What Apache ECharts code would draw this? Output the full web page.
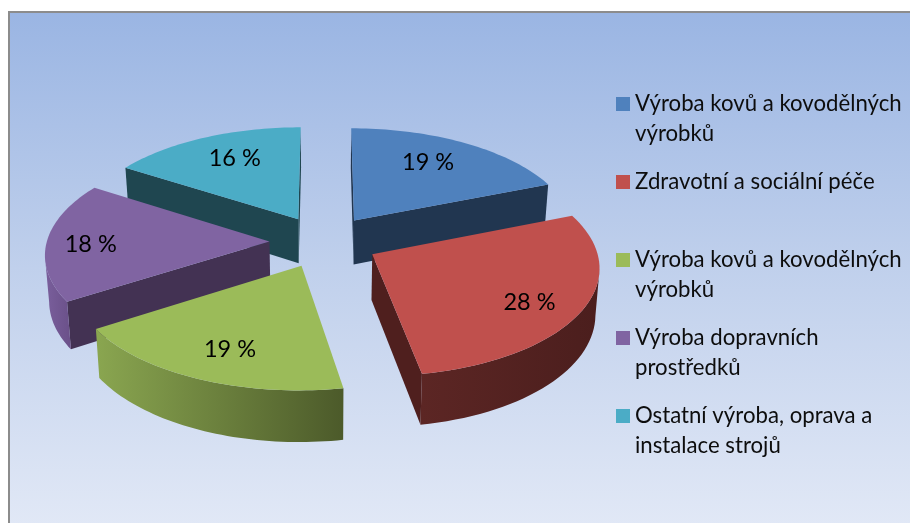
<!DOCTYPE html>
<html><head><meta charset="utf-8">
<style>html,body{margin:0;padding:0;background:#fff}#c{width:910px;height:523px}</style>
<script src="https://cdn.jsdelivr.net/npm/echarts@6/dist/echarts.min.js"></script>
</head><body><div id="c"></div>
<script>
const categories = ['Výroba kovů a kovodělných výrobků','Zdravotní a sociální péče','Výroba kovů a kovodělných výrobků','Výroba dopravních prostředků','Ostatní výroba, oprava a instalace strojů'];
const legendLabels = ['Výroba kovů a kovodělných\nvýrobků','Zdravotní a sociální péče','Výroba kovů a kovodělných\nvýrobků','Výroba dopravních\nprostředků','Ostatní výroba, oprava a\ninstalace strojů'];
const values = [19,28.2,18.8,18,16];
const topColors = ['#4f81bd','#c0504d','#9bbb59','#8064a2','#4bacc6'];
const flatWallColors = ['#213650','#4f1f1e','#5a6e30','#433253','#1f4650'];
const arcWallStops = [['#213650','#213650'],['#5c2624','#4b1e1d'],['#8aa650','#4c5a2a'],['#7a5f9c','#6a5089'],['#1f4650','#1f4650']];
const drawOrder = [0,4,3,1,2];
const labelRadius = [0.71,0.78,0.75,0.80,0.715];
const labelAngleShift = [-2.8,3.5,-1.6,-2.3,2.3];

const PROJ = {cx:324, cy:241.5, rx:222.6, ry:106, p:0.105, explode:0.245, depth:45, shrink:0.985};
function project(X,Z,low){
  const s = 1/(1+PROJ.p*Z);
  let x = PROJ.cx + PROJ.rx*X*s, y = PROJ.cy - PROJ.ry*Z*s;
  if(low){ x = PROJ.cx + (x-PROJ.cx)*PROJ.shrink; y += PROJ.depth*s; }
  return [x,y];
}
const total = values.reduce((a,b)=>a+b,0);
const starts = []; values.reduce((acc,v,i)=>{starts[i]=acc;return acc+v/total*2*Math.PI;},0);

function renderSlice(params, api){
  const i = api.value(0), v = api.value(1);
  const a0 = starts[i], a1 = a0 + v/total*2*Math.PI, mid=(a0+a1)/2;
  const ax = PROJ.explode*Math.sin(mid), az = PROJ.explode*Math.cos(mid);
  const N = 48, rim=[];
  for(let k=0;k<=N;k++){const t=a0+(a1-a0)*k/N; rim.push([ax+Math.sin(t),az+Math.cos(t)]);}
  const topOf = q=>project(q[0],q[1],false), lowOf = q=>project(q[0],q[1],true);
  const apex=[ax,az];
  const children=[];
  const z = drawOrder.indexOf(i)*10;
  const wall=(a,b)=>{
    children.push({type:'polygon',z2:z,shape:{points:[topOf(a),topOf(b),lowOf(b),lowOf(a)]},style:{fill:flatWallColors[i]}});
  };
  const pStart=rim[0], pEnd=rim[N];
  if(topOf(pStart)[0]<topOf(apex)[0]) wall(apex,pStart);
  if(topOf(apex)[0]<topOf(pEnd)[0]) wall(pEnd,apex);
  // outer curved wall: the run of rim steps that move leftwards on screen
  let run=[];
  for(let k=0;k<N;k++){
    if(topOf(rim[k+1])[0]<topOf(rim[k])[0]){ if(!run.length) run.push(rim[k]); run.push(rim[k+1]); }
  }
  if(run.length>1){
    const pts=run.map(topOf).concat(run.slice().reverse().map(lowOf));
    children.push({type:'polygon',z2:z+1,shape:{points:pts},style:{fill:new echarts.graphic.LinearGradient(1,0,0,0,[{offset:0,color:arcWallStops[i][1]},{offset:1,color:arcWallStops[i][0]}])}});
  }
  const top=[topOf(apex)].concat(rim.map(topOf));
  children.push({type:'polygon',z2:z+2,shape:{points:top},style:{fill:topColors[i]}});
  const lr=labelRadius[i], la=mid+labelAngleShift[i]*Math.PI/180;
  const lp=project(ax+lr*Math.sin(la),az+lr*Math.cos(la),false);
  children.push({type:'text',z2:100,style:{text:Math.round(v)+' %',x:lp[0],y:lp[1],align:'center',verticalAlign:'middle',fill:'#000',font:'23.5px Lato'}});
  return {type:'group',children};
}

const LEGEND={x:635,y:89,pitch:78,lh:30,box:14};
const legendGraphic=[];
legendLabels.forEach((t,i)=>{
  const y=LEGEND.y+i*LEGEND.pitch;
  legendGraphic.push({type:'rect',left:616,top:y+8,shape:{width:LEGEND.box,height:LEGEND.box},style:{fill:topColors[i]}});
  legendGraphic.push({type:'text',left:LEGEND.x,top:y,style:{text:t,font:'22.2px Lato',lineHeight:LEGEND.lh,fill:'#0d0d0d'}});
});

const chart=echarts.init(document.getElementById('c'),null,{renderer:'canvas'});
chart.setOption({
  animation:false,
  backgroundColor:'#fff',
  graphic:[
    {type:'rect',left:8,top:11,z:-10,shape:{width:902,height:512},
     style:{fill:new echarts.graphic.LinearGradient(0,0,0,1,[{offset:0,color:'#9ab5e3'},{offset:0.5,color:'#c0d0ec'},{offset:1,color:'#e1e8f6'}]),stroke:'#8c8c8c',lineWidth:2}}
  ].concat(legendGraphic),
  series:[{type:'custom',coordinateSystem:'none',renderItem:renderSlice,
    data:values.map((v,i)=>({name:categories[i],value:[i,v]})),
    encode:{value:[1]}}]
});
</script></body></html>
